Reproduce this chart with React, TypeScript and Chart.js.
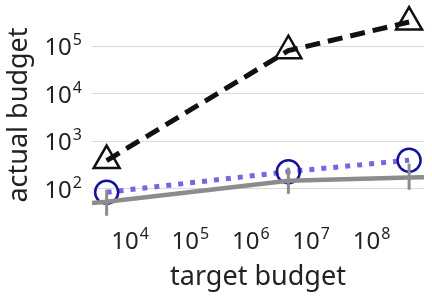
import React, { useEffect, useRef } from 'react';
import { Chart, registerables } from 'chart.js';

Chart.register(...registerables);

// ---- data ----
const targetBudget = [4096, 4.2e6, 4.2e8];
const triangleSeries = [390, 8e4, 3.2e5];
const circleSeries = [84, 228, 398];
const grayX = [2344, 4096, 4.2e6, 4.2e8, 7.4e8];
const graySeries = [50, 53, 147, 173, 174];
const grayLow = [27, 78, 95];
const grayHigh = [95, 277, 336];
const xTickExps = [4, 5, 6, 7, 8];
const yTickExps = [2, 3, 4, 5];
const xTitle = 'target budget';
const yTitle = 'actual budget';

const FONT = "'Noto Sans', sans-serif";
const TEXT = '#222222';
const GRAY = '#8c8c8c';

const errorBars = {
  id: 'errorBars',
  afterDatasetsDraw(chart: any) {
    const { ctx } = chart;
    const xs = chart.scales.x;
    const ys = chart.scales.y;
    ctx.save();
    ctx.strokeStyle = GRAY;
    ctx.lineWidth = 3;
    ctx.lineCap = 'butt';
    targetBudget.forEach((x, i) => {
      const px = xs.getPixelForValue(x);
      ctx.beginPath();
      ctx.moveTo(px, ys.getPixelForValue(grayLow[i]));
      ctx.lineTo(px, ys.getPixelForValue(grayHigh[i]));
      ctx.stroke();
    });
    ctx.restore();
  },
};

const supLabels = {
  id: 'supLabels',
  afterDraw(chart: any) {
    const { ctx, chartArea } = chart;
    const xs = chart.scales.x;
    const ys = chart.scales.y;
    ctx.save();
    ctx.fillStyle = TEXT;
    ctx.textBaseline = 'alphabetic';
    ctx.textAlign = 'left';
    const draw = (exp: number, ax: number, baseY: number, align: string) => {
      ctx.font = `24px ${FONT}`;
      const wb = ctx.measureText('10').width;
      ctx.font = `16px ${FONT}`;
      const ws = ctx.measureText(String(exp)).width;
      const total = wb + 1 + ws;
      const left = align === 'center' ? ax - total / 2 : ax - total;
      ctx.font = `24px ${FONT}`;
      ctx.fillText('10', left, baseY);
      ctx.font = `16px ${FONT}`;
      ctx.fillText(String(exp), left + wb + 1, baseY - 10);
    };
    xTickExps.forEach((e) =>
      draw(e, xs.getPixelForValue(Math.pow(10, e)), chartArea.bottom + 27, 'center')
    );
    yTickExps.forEach((e) =>
      draw(e, chartArea.left - 10, ys.getPixelForValue(Math.pow(10, e)) + 9, 'right')
    );
    ctx.restore();
  },
};

export default function App() {
  const ref = useRef<HTMLCanvasElement | null>(null);

  useEffect(() => {
    if (!ref.current) return;
    const chart = new Chart(ref.current, {
      type: 'line',
      data: {
        datasets: [
          {
            label: 'gray',
            data: grayX.map((x, i) => ({ x, y: graySeries[i] })),
            borderColor: GRAY,
            borderWidth: 4.5,
            pointRadius: 0,
            fill: false,
            tension: 0,
          },
          {
            label: 'circles',
            data: targetBudget.map((x, i) => ({ x, y: circleSeries[i] })),
            borderColor: '#7766dd',
            borderWidth: 5,
            borderDash: [5, 7],
            borderCapStyle: 'butt',
            pointStyle: 'circle',
            pointRadius: 11.5,
            pointBorderWidth: 2.5,
            pointBorderColor: '#14149a',
            pointBackgroundColor: 'rgba(0,0,0,0)',
            fill: false,
            tension: 0,
            clip: false,
          },
          {
            label: 'triangles',
            data: targetBudget.map((x, i) => ({ x, y: triangleSeries[i] })),
            borderColor: '#111111',
            borderWidth: 5,
            borderDash: [15, 8],
            borderCapStyle: 'butt',
            pointStyle: 'triangle',
            pointRadius: 15,
            pointBorderWidth: 2.5,
            pointBorderColor: '#111111',
            pointBackgroundColor: 'rgba(0,0,0,0)',
            fill: false,
            tension: 0,
            clip: false,
          },
        ],
      } as any,
      options: {
        animation: false,
        responsive: false,
        events: [],
        layout: { autoPadding: false, padding: { top: 8, right: 8, left: 0, bottom: 0 } },
        plugins: { legend: { display: false }, tooltip: { enabled: false } },
        scales: {
          x: {
            type: 'logarithmic',
            min: Math.pow(10, 3.37),
            max: Math.pow(10, 8.87),
            grid: { display: false },
            border: { display: false },
            ticks: { display: false },
            afterBuildTicks: (s: any) => {
              s.ticks = xTickExps.map((e) => ({ value: Math.pow(10, e) }));
            },
            afterFit: (s: any) => {
              s.height = 80;
            },
            title: {
              display: true,
              text: xTitle,
              color: TEXT,
              font: { family: FONT, size: 27 },
              padding: { top: 0, bottom: 8 },
            },
          },
          y: {
            type: 'logarithmic',
            min: Math.pow(10, 1.3),
            max: Math.pow(10, 5.8),
            grid: { display: true, color: '#dadada', lineWidth: 1, drawTicks: false },
            border: { display: false },
            ticks: { display: false },
            afterBuildTicks: (s: any) => {
              s.ticks = yTickExps.map((e) => ({ value: Math.pow(10, e) }));
            },
            afterFit: (s: any) => {
              s.width = 92;
            },
            title: {
              display: true,
              text: yTitle,
              color: TEXT,
              font: { family: FONT, size: 27 },
              padding: { top: 3.5, bottom: 0 },
            },
          },
        },
      } as any,
      plugins: [errorBars, supLabels],
    });
    return () => chart.destroy();
  }, []);

  return (
    <div style={{ position: 'absolute', left: 0, top: 0, width: 432, height: 302 }}>
      <canvas ref={ref} width={432} height={302} />
    </div>
  );
}
